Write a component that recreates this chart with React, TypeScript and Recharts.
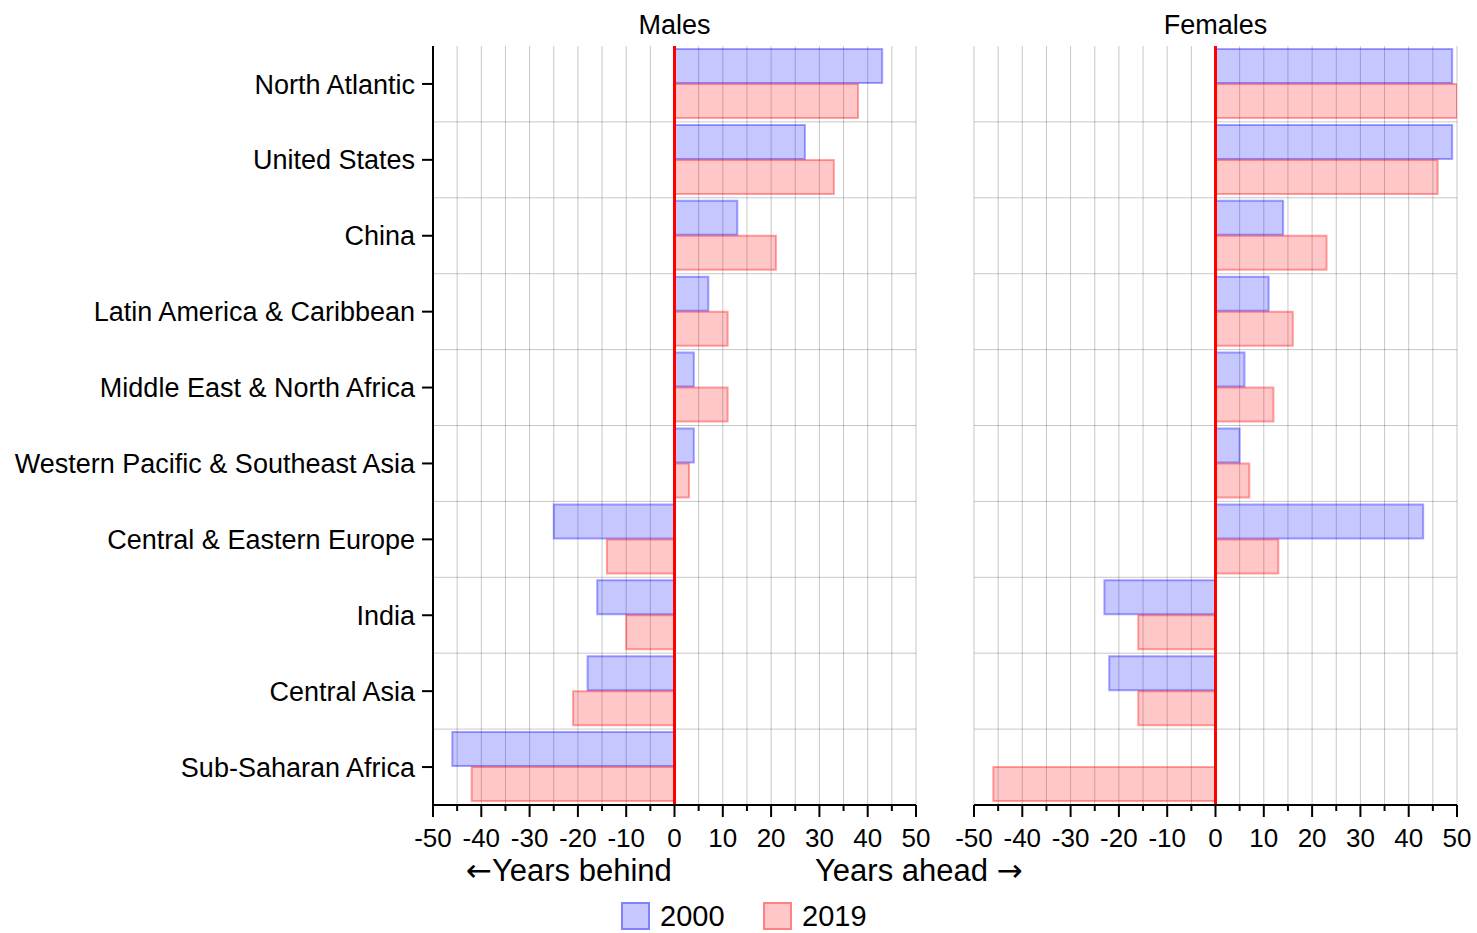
import React from 'react';
import { BarChart, Bar, XAxis, YAxis, CartesianGrid, ReferenceLine } from 'recharts';

const regions = [
  'North Atlantic',
  'United States',
  'China',
  'Latin America & Caribbean',
  'Middle East & North Africa',
  'Western Pacific & Southeast Asia',
  'Central & Eastern Europe',
  'India',
  'Central Asia',
  'Sub-Saharan Africa',
];
const males2000 = [43, 27, 13, 7, 4, 4, -25, -16, -18, -46];
const males2019 = [38, 33, 21, 11, 11, 3, -14, -10, -21, -42];
const females2000 = [49, 49, 14, 11, 6, 5, 43, -23, -22, null];
const females2019 = [50, 46, 23, 16, 12, 7, 13, -16, -16, -46];
const xTicks = [-50, -45, -40, -35, -30, -25, -20, -15, -10, -5, 0, 5, 10, 15, 20, 25, 30, 35, 40, 45, 50];
const seriesNames = ['2000', '2019'];
const seriesColors = ['#0000ff', '#ff0000'];
const seriesFills = ['rgba(0,0,255,0.22)', 'rgba(255,0,0,0.22)'];
const seriesEdges = ['rgba(0,0,255,0.35)', 'rgba(255,0,0,0.35)'];
const panelTitles = ['Males', 'Females'];

const maleData = regions.map((region, i) => ({ region, y2000: males2000[i], y2019: males2019[i] }));
const femaleData = regions.map((region, i) => ({ region, y2000: females2000[i], y2019: females2019[i] }));

const FONT = '"Liberation Sans", Arial, sans-serif';
const ARROW_FONT = '"DejaVu Sans", sans-serif';
const HEIGHT = 933;

// horizontal grid lines sit between the category bands, not at their centres
const bandEdges = ({ offset }: any) =>
  Array.from({ length: regions.length - 1 }, (_, i) => offset.top + ((i + 1) * offset.height) / regions.length);

const XTick = (props: any) => {
  const { x, y, payload } = props;
  const major = payload.value % 10 === 0;
  return (
    <g>
      <line x1={x} x2={x} y1={y} y2={y + (major ? 12 : 6)} stroke="#000" strokeWidth={2} />
      {major && (
        <text x={x} y={y + 42} textAnchor="middle" fontSize={26} fill="#000">
          {payload.value}
        </text>
      )}
    </g>
  );
};

interface PanelProps {
  data: any[];
  showAxis: boolean;
  left: number;
  width: number;
  marginLeft: number;
  marginRight: number;
}

const Panel: React.FC<PanelProps> = ({ data, showAxis, left, width, marginLeft, marginRight }) => (
  <div style={{ position: 'absolute', left, top: 0 }}>
    <BarChart
      width={width}
      height={HEIGHT}
      data={data}
      layout="vertical"
      margin={{ top: 46, right: marginRight, bottom: 88, left: marginLeft }}
      barCategoryGap={3}
      barGap={1}
    >
      <CartesianGrid stroke="#000" strokeOpacity={0.22} horizontalCoordinatesGenerator={bandEdges} />
      <XAxis
        type="number"
        domain={[-50, 50]}
        ticks={xTicks}
        interval={0}
        allowDataOverflow
        tickLine={false}
        tickSize={0}
        tickMargin={0}
        height={40}
        axisLine={{ stroke: '#000', strokeWidth: 2 }}
        tick={<XTick />}
      />
      <YAxis
        type="category"
        dataKey="region"
        hide={!showAxis}
        width={433}
        tickSize={11}
        tickMargin={7}
        interval={0}
        tick={{ fill: '#000', fontSize: 27 }}
        tickLine={{ stroke: '#000', strokeWidth: 2 }}
        axisLine={{ stroke: '#000', strokeWidth: 2 }}
      />
      {seriesNames.map((name, i) => (
        <Bar
          key={name}
          dataKey={`y${name}`}
          name={name}
          fill={seriesColors[i]}
          fillOpacity={0.22}
          stroke={seriesColors[i]}
          strokeOpacity={0.35}
          strokeWidth={2}
          isAnimationActive={false}
        />
      ))}
      <ReferenceLine x={0} stroke="#ff0000" strokeWidth={3} />
    </BarChart>
  </div>
);

export default function App() {
  return (
    <div
      style={{
        position: 'absolute',
        left: 0,
        top: 0,
        width: 1477,
        height: HEIGHT,
        background: '#fff',
        fontFamily: FONT,
        color: '#000',
        overflow: 'hidden',
      }}
    >
      <Panel data={maleData} showAxis left={0} width={940} marginLeft={0} marginRight={24} />
      <Panel data={femaleData} showAxis={false} left={940} width={537} marginLeft={34} marginRight={20} />

      {panelTitles.map((t, i) => (
        <div
          key={t}
          style={{
            position: 'absolute',
            left: i === 0 ? 433 : 974,
            width: 483,
            top: 11,
            fontSize: 27,
            lineHeight: '28px',
            textAlign: 'center',
          }}
        >
          {t}
        </div>
      ))}

      <div style={{ position: 'absolute', left: 466, top: 855, fontSize: 31, lineHeight: '30px', whiteSpace: 'nowrap' }}>
        <span style={{ fontFamily: ARROW_FONT, fontSize: 31 }}>←</span>Years behind
      </div>
      <div style={{ position: 'absolute', left: 815, top: 855, fontSize: 31, lineHeight: '30px', whiteSpace: 'nowrap' }}>
        Years ahead <span style={{ fontFamily: ARROW_FONT, fontSize: 31 }}>→</span>
      </div>

      {seriesNames.map((name, i) => (
        <div
          key={name}
          style={{
            position: 'absolute',
            left: i === 0 ? 621 : 763,
            top: 903,
            height: 26,
            display: 'flex',
            alignItems: 'center',
            fontSize: 29,
            lineHeight: '26px',
            whiteSpace: 'nowrap',
          }}
        >
          <span
            style={{
              display: 'inline-block',
              width: 25,
              height: 24,
              background: seriesFills[i],
              border: `2px solid ${seriesEdges[i]}`,
              marginRight: 10,
            }}
          />
          {name}
        </div>
      ))}
    </div>
  );
}
